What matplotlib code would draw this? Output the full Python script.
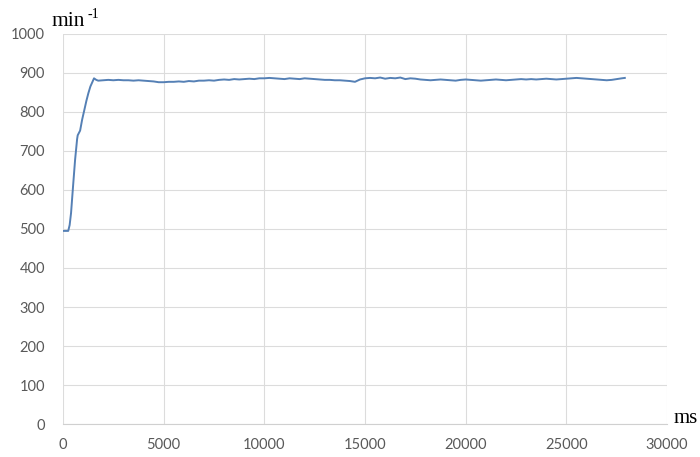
import numpy as np
import matplotlib
matplotlib.use("Agg")
import matplotlib.pyplot as plt

# speed ramp-up, first 1.75 s
t_rise = [0, 150, 260, 330, 400, 500, 600, 700, 730, 850, 950, 1060,
          1160, 1260, 1360, 1455, 1540, 1650, 1750]
rpm_rise = [495, 495, 495, 510, 541, 610, 677, 730, 740, 752, 780, 805,
            828, 848, 865, 876, 886, 882, 880]

# steady running, sampled every 250 ms from 2000 to 27750 ms
t_run = np.arange(2000, 28000, 250)
rpm_run = [881, 882, 881, 882, 881, 881, 880, 881, 880, 879, 878, 876, 876,
           877, 877, 878, 877, 879, 878, 880, 880, 881, 880, 882, 883, 882, 884, 883, 884, 885, 884, 886, 886,
           887, 886, 885, 884, 886, 885, 884, 886, 885, 884, 883, 882, 882, 881, 881, 880, 879, 877, 883, 886,
           887, 886, 888, 885, 887, 886, 888, 884, 886, 885, 883, 882, 881, 882, 883, 882, 881, 880, 882, 883,
           882, 881, 880, 881, 882, 883, 882, 881, 882, 883, 884, 883, 884, 883, 884, 885, 884, 883, 884, 885,
           886, 887, 886, 885, 884, 883, 882, 881, 882, 884, 886]
t_end = [27900]
rpm_end = [887]

t = list(t_rise) + list(t_run) + t_end
rpm = rpm_rise + rpm_run + rpm_end

fig = plt.figure(figsize=(7.0, 4.57), dpi=100)
ax = fig.add_axes([0.09, 0.072, 0.863, 0.854])

ax.plot(t, rpm, color="#5580b5", linewidth=1.4)

ax.set_xlim(0, 30000)
ax.set_ylim(0, 1000)
ax.set_xticks(range(0, 30001, 5000))
ax.set_yticks(range(0, 1001, 100))
ax.grid(True, color="#dcdcdc", linewidth=0.8)
ax.set_axisbelow(True)
for s in ["top", "right", "left"]:
    ax.spines[s].set_visible(False)
ax.spines["bottom"].set_color("#d0d0d0")
ax.tick_params(length=0, labelsize=10.5, labelcolor="#595959")
ax.tick_params(axis="x", pad=10)
ax.tick_params(axis="y", pad=13)
for lab in ax.get_xticklabels() + ax.get_yticklabels():
    lab.set_family("Lato")

# units
fig.text(52 / 700, 1 - 26 / 457, "min", family="Liberation Serif", fontsize=15.5, color="black")
fig.text(87 / 700, 1 - 18 / 457, "-1", family="Liberation Serif", fontsize=10, color="black")
fig.text(674 / 700, 1 - 423 / 457, "ms", family="Liberation Serif", fontsize=15, color="black")

fig.savefig("out.png", dpi=100)
